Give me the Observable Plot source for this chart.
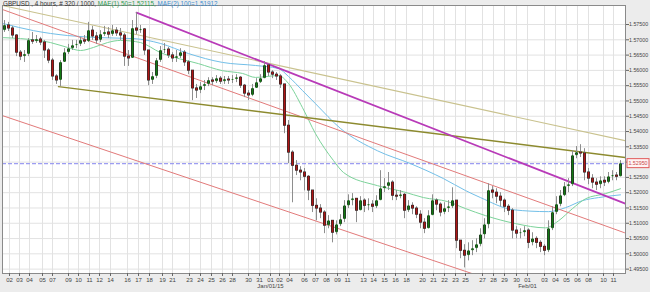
<!DOCTYPE html>
<html><head><meta charset="utf-8">
<script src="https://cdn.jsdelivr.net/npm/d3@7"></script>
<script src="https://cdn.jsdelivr.net/npm/@observablehq/plot@0.6"></script>
<style>
body{margin:0;background:#ececec;font-family:"Liberation Sans",Arial,sans-serif;}
#wrap{position:relative;width:650px;height:292px;}
#hdr{position:absolute;left:3px;top:0px;font-size:6.3px;line-height:8px;color:#333;white-space:nowrap;}
svg text{font-family:"Liberation Sans",Arial,sans-serif;}
</style></head><body><div id="wrap"><div id="hdr"></div></div>
<script>
// ---- data: 2-bar candles (GBPUSD 4h) ----
const open0 = 1.5730;
const close = [1.5747,1.5737,1.5714,1.5658,1.5645,1.5652,1.5698,1.5694,1.5701,1.5691,
1.5665,1.5632,1.5580,1.5567,1.5626,1.5658,1.5671,1.5681,1.5685,1.5698,
1.5694,1.5730,1.5711,1.5698,1.5717,1.5724,1.5717,1.5730,1.5721,1.5714,
1.5645,1.5639,1.5737,1.5730,1.5734,1.5665,1.5567,1.5580,1.5632,1.5665,
1.5668,1.5649,1.5639,1.5645,1.5658,1.5626,1.5599,1.5541,1.5534,1.5547,
1.5554,1.5567,1.5563,1.5573,1.5563,1.5570,1.5567,1.5570,1.5576,1.5550,
1.5524,1.5518,1.5541,1.5560,1.5573,1.5616,1.5593,1.5586,1.5580,1.5554,
1.5419,1.5331,1.5288,1.5272,1.5266,1.5252,1.5207,1.5157,1.5148,1.5135,
1.5092,1.5108,1.5069,1.5095,1.5112,1.5157,1.5174,1.5180,1.5141,1.5174,
1.5157,1.5161,1.5154,1.5174,1.5213,1.5220,1.5233,1.5190,1.5187,1.5193,
1.5141,1.5157,1.5148,1.5128,1.5102,1.5082,1.5125,1.5174,1.5161,1.5135,
1.5148,1.5154,1.5174,1.5043,1.5010,1.4994,1.5010,1.5017,1.5030,1.5062,
1.5095,1.5207,1.5200,1.5187,1.5174,1.5154,1.5141,1.5076,1.5066,1.5069,
1.5076,1.5036,1.5049,1.5036,1.5023,1.5010,1.5082,1.5135,1.5161,1.5190,
1.5220,1.5226,1.5321,1.5331,1.5328,1.5266,1.5246,1.5233,1.5226,1.5239,
1.5233,1.5252,1.5256,1.5252,1.5295];
const high = [1.5763,1.5757,1.5744,1.5717,1.5665,1.5665,1.5704,1.5724,1.5714,1.5708,
1.5698,1.5671,1.5639,1.5586,1.5632,1.5671,1.5685,1.5698,1.5698,1.5708,
1.5714,1.5757,1.5744,1.5724,1.5730,1.5744,1.5740,1.5747,1.5740,1.5737,
1.5721,1.5665,1.5763,1.5789,1.5747,1.5737,1.5665,1.5593,1.5639,1.5678,
1.5688,1.5675,1.5658,1.5665,1.5671,1.5665,1.5632,1.5599,1.5554,1.5560,
1.5567,1.5576,1.5576,1.5583,1.5580,1.5580,1.5580,1.5583,1.5586,1.5580,
1.5554,1.5534,1.5554,1.5573,1.5586,1.5629,1.5619,1.5599,1.5593,1.5586,
1.5554,1.5436,1.5337,1.5305,1.5285,1.5279,1.5256,1.5207,1.5180,1.5161,
1.5141,1.5125,1.5108,1.5108,1.5128,1.5174,1.5193,1.5197,1.5180,1.5187,
1.5180,1.5180,1.5174,1.5190,1.5272,1.5246,1.5266,1.5239,1.5207,1.5207,
1.5197,1.5174,1.5167,1.5154,1.5141,1.5115,1.5141,1.5193,1.5180,1.5167,
1.5167,1.5174,1.5216,1.5174,1.5043,1.5030,1.5036,1.5043,1.5049,1.5082,
1.5115,1.5229,1.5220,1.5213,1.5200,1.5180,1.5161,1.5148,1.5089,1.5082,
1.5089,1.5082,1.5069,1.5056,1.5043,1.5030,1.5108,1.5154,1.5187,1.5207,
1.5233,1.5246,1.5337,1.5351,1.5357,1.5344,1.5279,1.5259,1.5246,1.5252,
1.5252,1.5266,1.5272,1.5266,1.5305];
const low = [1.5724,1.5727,1.5704,1.5645,1.5632,1.5626,1.5645,1.5685,1.5688,1.5681,
1.5639,1.5622,1.5567,1.5554,1.5547,1.5626,1.5652,1.5665,1.5671,1.5678,
1.5685,1.5691,1.5698,1.5685,1.5691,1.5711,1.5704,1.5711,1.5711,1.5698,
1.5613,1.5613,1.5639,1.5717,1.5721,1.5649,1.5550,1.5554,1.5573,1.5626,
1.5655,1.5639,1.5626,1.5626,1.5639,1.5613,1.5586,1.5501,1.5508,1.5524,
1.5534,1.5547,1.5550,1.5557,1.5554,1.5554,1.5554,1.5557,1.5560,1.5541,
1.5511,1.5501,1.5514,1.5541,1.5557,1.5573,1.5580,1.5573,1.5567,1.5541,
1.5393,1.5295,1.5167,1.5256,1.5239,1.5206,1.5174,1.5135,1.5108,1.5115,
1.5066,1.5082,1.5036,1.5062,1.5089,1.5102,1.5148,1.5157,1.5102,1.5141,
1.5135,1.5141,1.5135,1.5148,1.5174,1.5200,1.5207,1.5174,1.5174,1.5180,
1.5115,1.5135,1.5128,1.5115,1.5082,1.5066,1.5082,1.5125,1.5141,1.5121,
1.5128,1.5135,1.5148,1.5017,1.4984,1.4954,1.4977,1.4994,1.5004,1.5023,
1.5049,1.5082,1.5180,1.5164,1.5154,1.5135,1.5125,1.5049,1.5049,1.5049,
1.5056,1.5017,1.5026,1.5017,1.5004,1.4994,1.5004,1.5076,1.5128,1.5154,
1.5187,1.5200,1.5220,1.5311,1.5315,1.5239,1.5226,1.5213,1.5207,1.5213,
1.5220,1.5229,1.5239,1.5239,1.5252];

// moving averages (read at sparse points; x in candle slots)
const ma50Idx = [-0.25,4,11.5,15.75,19,22.25,25.75,29,34,39,48.5,54.5,59.5,62.75,68.5,71,74.5,77.75,82.25,84.75,93.25,99.75,104.75,110.75,115.25,120.25,127.75,135.25,138.5,142,145.25,150.25,154];
const ma50Val = [1.5707,1.5704,1.5691,1.5675,1.5665,1.5675,1.5691,1.5698,1.5691,1.5658,1.5622,1.5599,1.5590,1.5577,1.5583,1.5557,1.5478,1.5393,1.5305,1.5266,1.5223,1.5203,1.5184,1.5171,1.5148,1.5125,1.5099,1.5085,1.5108,1.5148,1.5180,1.5197,1.5213];
const ma100Idx = [-0.25,7.25,15.75,24,32.25,39,46,54.5,62.75,68.5,71,74.5,77.75,84,93.25,101.5,109.75,115.25,119,127.25,136,140.25,144.5,148.5,154];
const ma100Val = [1.5753,1.5730,1.5714,1.5707,1.5704,1.5688,1.5655,1.5626,1.5616,1.5606,1.5580,1.5534,1.5491,1.5410,1.5337,1.5295,1.5246,1.5207,1.5184,1.5144,1.5138,1.5151,1.5174,1.5184,1.5193];

// trend lines (two anchor points each)
const redUpperIdx = [-0.5,155], redUpperPrice = [1.5799,1.5069];
const redLowerIdx = [-0.5,117], redLowerPrice = [1.5452,1.4935];
const magentaIdx = [33,155.25], magentaPrice = [1.5789,1.5164];
const oliveIdx = [13.5,155.25], olivePrice = [1.5547,1.5315];
const khakiIdx = [-0.5,155.25], khakiPrice = [1.5812,1.5370];

// axes
const yTicks = [1.495,1.500,1.505,1.510,1.515,1.520,1.525,1.530,1.535,1.540,1.545,1.550,1.555,1.560,1.565,1.570,1.575];
const xTickPos = [1.25,3.75,6.25,9.5,12,16,18.5,21.25,23.75,26.5,30.75,33.5,36.25,39.5,42,46.25,49,51.75,54.5,57,61,63.75,66.5,68.75,71.25,75,77.75,80.5,83.25,85.75,89.75,92.25,95,97.75,100.5,104.5,107.25,110,112.75,115.25,119.5,122.25,125,128,130.75,135,137.75,140.5,143.25,146,149.75,152.25];
const xTickLabels = ["02","03","04","05","07","09","10","11","12","14","16","17","18","19","21","23","24","25","26","28","30","31","01","02","04","06","07","08","09","11","13","14","15","16","18","20","21","22","23","25","27","28","29","30","01","03","04","05","06","08","10","11"];
const monthTickPos = [66.5,130.75];
const monthTickLabels = ["Jan/01/15","Feb/01"];
const headerParts = ["GBPUSD , 4 hours, # 320 / 1000, ","MAE(1) 50=1.52115, ","MAE(2) 100=1.51912"];

// ---- build ----
const candles = close.map((c,i)=>({i, open: i? close[i-1] : open0, close:c, high:high[i], low:low[i]}));
const pts = (xs, ys) => xs.map((x,i)=>({x, y: ys[i]}));
const lastClose = close[close.length-1];
const xLab = new Map(xTickPos.map((p,i)=>[p, xTickLabels[i]]));
const mLab = new Map(monthTickPos.map((p,i)=>[p, monthTickLabels[i]]));
const fmt5 = d3.format(".5f");
// the current-price box hides the tick label it sits on
const yLabelTicks = yTicks.filter(t => Math.abs(t - lastClose) > 0.0025);

const chart = Plot.plot({
  width: 650, height: 292,
  marginLeft: 2, marginRight: 25, marginTop: 5, marginBottom: 19,
  x: {domain: [-0.5, 155.25]},
  y: {domain: [1.49357, 1.58122]},
  color: {type: "identity"},
  style: {background: "transparent", fontFamily: "Liberation Sans, Arial, sans-serif", overflow: "visible"},
  marks: [
    Plot.frame({fill: "white", stroke: "none"}),
    Plot.gridX(xTickPos, {stroke: "#e2e2e2", strokeOpacity: 1}),
    Plot.gridY(yTicks, {stroke: "#e2e2e2", strokeOpacity: 1}),
    Plot.ruleY([lastClose], {stroke: "#9d9df2", strokeWidth: 1.3, strokeDasharray: "4,2"}),
    Plot.line(pts(ma100Idx, ma100Val), {x: "x", y: "y", stroke: "#72bfe8", strokeWidth: 1, curve: "monotone-x"}),
    Plot.line(pts(ma50Idx, ma50Val), {x: "x", y: "y", stroke: "#7cd39a", strokeWidth: 1, curve: "monotone-x"}),
    Plot.line(pts(khakiIdx, khakiPrice), {x: "x", y: "y", stroke: "#c9c28e", strokeWidth: 1.1, clip: true}),
    Plot.line(pts(redUpperIdx, redUpperPrice), {x: "x", y: "y", stroke: "#e27a7a", strokeWidth: 1, clip: true}),
    Plot.line(pts(redLowerIdx, redLowerPrice), {x: "x", y: "y", stroke: "#e27a7a", strokeWidth: 1, clip: true}),
    Plot.line(pts(oliveIdx, olivePrice), {x: "x", y: "y", stroke: "#8c8a2e", strokeWidth: 1.4, clip: true}),
    Plot.line(pts(magentaIdx, magentaPrice), {x: "x", y: "y", stroke: "#b83ab8", strokeWidth: 1.7, clip: true}),
    Plot.ruleX(candles, {x: "i", y1: "low", y2: "high", stroke: "#8e8e8e", strokeWidth: 1}),
    Plot.ruleX(candles, {x: "i", y1: "open", y2: "close", stroke: "#2a2a2a", strokeWidth: 3, insetTop: -0.5, insetBottom: -0.5}),
    Plot.ruleX(candles, {x: "i", y1: "open", y2: "close", stroke: d => d.close >= d.open ? "#137a13" : "#b01515", strokeWidth: 1.6}),
    Plot.frame({stroke: "#8a8a8a"}),
    Plot.axisY(yTicks, {anchor: "right", tickFormat: null, text: null, tickSize: 3, stroke: "#666"}),
    Plot.axisY(yLabelTicks, {anchor: "right", tickFormat: fmt5, tickSize: 0, tickPadding: 3.5, fontSize: 5.3, fill: "#444"}),
    Plot.axisX(xTickPos, {anchor: "bottom", tickFormat: d => xLab.get(d), tickSize: 3, tickPadding: 1, fontSize: 6, stroke: "#666", fill: "#444"}),
    Plot.axisX(monthTickPos, {anchor: "bottom", tickFormat: d => mLab.get(d), tickSize: 0, tickPadding: 10, fontSize: 6, fill: "#444"})
  ]
});

// current price label box on the right axis
const yPx = chart.scale("y").apply(lastClose);
const xPx = chart.scale("x").range[1];
const svg = d3.select(chart);
svg.append("rect").attr("x", xPx + 2).attr("y", yPx - 4.5).attr("width", 22).attr("height", 9)
  .attr("fill", "#fff3f3").attr("stroke", "#e05a5a").attr("stroke-width", 1);
svg.append("text").attr("x", xPx + 13).attr("y", yPx + 2).attr("text-anchor", "middle")
  .attr("font-size", 5.3).attr("fill", "#c84848").text(fmt5(lastClose));

document.getElementById("wrap").prepend(chart);
const hdr = document.getElementById("hdr");
const colors = ["#333", "#2f9c52", "#3d8fd2"];
headerParts.forEach((t,i)=>{ const s=document.createElement("span"); s.style.color=colors[i]; s.textContent=t; hdr.appendChild(s); });
</script></body></html>
